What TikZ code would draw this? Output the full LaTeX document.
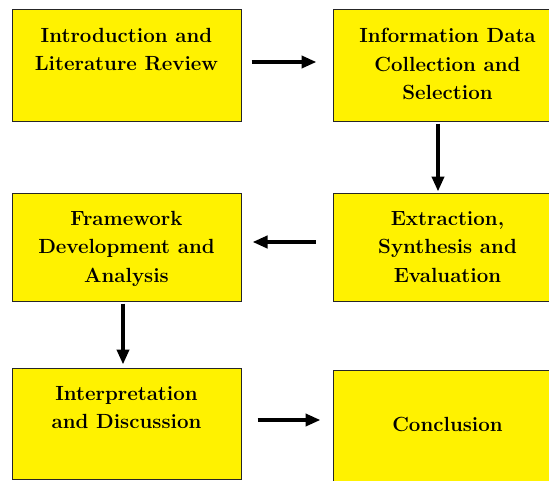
\documentclass[tikz,border=0pt]{standalone}
\usetikzlibrary{arrows.meta}

\begin{document}
\begin{tikzpicture}[x=1pt,y=-1pt,
  box/.style={draw=black!85,line width=1pt,fill=yellow,minimum width=229pt,inner sep=0pt},
  txt/.style={anchor=north,align=center,inner sep=0pt,font=\bfseries\fontsize{20.5}{28.5}\selectfont},
  arr/.style={line width=4pt,-{Triangle[length=15pt,width=12pt]}}]
\useasboundingbox (0,0) rectangle (549,480);
 \node[box,minimum height=112pt] (intro) at (126.5,65) {};
 \node[box,minimum height=112pt] (info) at (447.5,65) {};
 \node[box,minimum height=108pt] (extract) at (447.5,247) {};
 \node[box,minimum height=108pt] (frame) at (126.5,247) {};
 \node[box,minimum height=111pt] (interp) at (126.5,423.5) {};
 \node[box,minimum height=112pt] (concl) at (447.5,426) {};
 \node[txt,yshift=-19.5pt] (introtxt) at (intro.north) {Introduction and\\Literature Review};
 \node[txt,yshift=-19.5pt] (infotxt) at (info.north) {Information Data\\Collection and\\Selection};
 \node[txt,yshift=-18.5pt] (extracttxt) at (extract.north) {Extraction,\\Synthesis and\\Evaluation};
 \node[txt,yshift=-18.5pt] (frametxt) at (frame.north) {Framework\\Development and\\Analysis};
 \node[txt,yshift=-18.5pt] (interptxt) at (interp.north) {Interpretation\\and Discussion};
 \node[txt,yshift=-47.5pt] (concltxt) at (concl.north) {Conclusion};
 \draw[arr] ([xshift=10pt,yshift=3pt]intro.east)--([xshift=-16pt,yshift=3pt]info.west);
 \draw[arr] ([xshift=-9.5pt,yshift=-2pt]info.south)--([xshift=-9.5pt,yshift=1pt]extract.north);
 \draw[arr] ([xshift=-17pt,yshift=5pt]extract.west)--([xshift=11pt,yshift=5pt]frame.east);
 \draw[arr] ([xshift=-3.5pt,yshift=-2pt]frame.south)--([xshift=-3.5pt,yshift=3pt]interp.north);
 \draw[arr] ([xshift=16pt,yshift=3.5pt]interp.east)--([xshift=-12pt,yshift=6pt]concl.west);
\end{tikzpicture}
\end{document}
